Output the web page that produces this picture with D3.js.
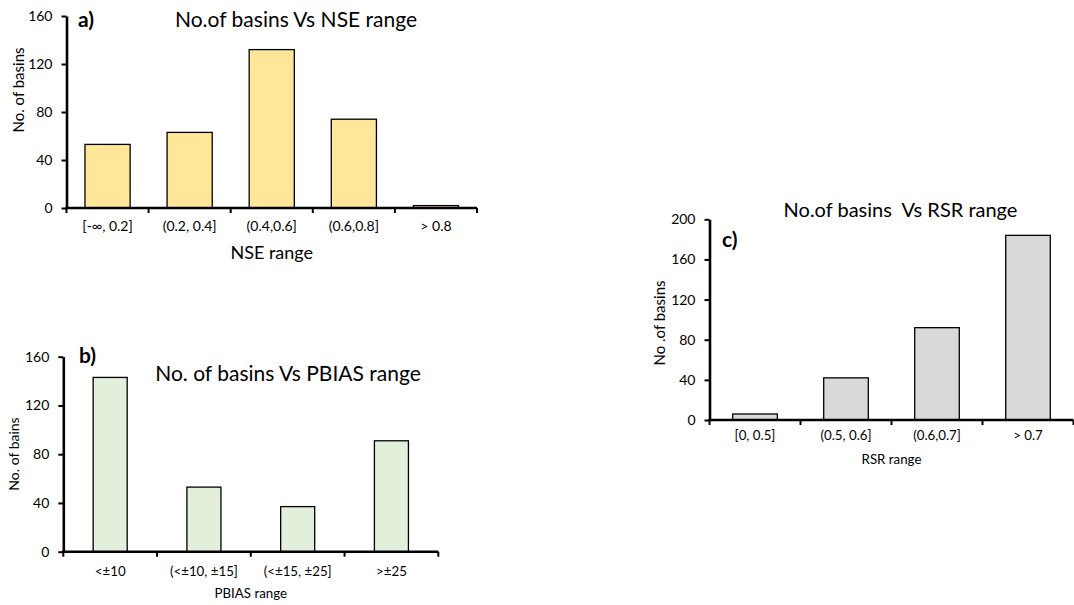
<!DOCTYPE html>
<html>
<head>
<meta charset="utf-8">
<script src="https://cdn.jsdelivr.net/npm/d3@7"></script>
<style>
  html, body { margin: 0; padding: 0; background: #fff; }
  svg { display: block; font-family: Lato, "Open Sans", sans-serif; }
  svg text { white-space: pre; }
</style>
</head>
<body>
<svg id="fig" width="1074" height="605"></svg>
<script>
// NSE panel
const nseCategories = ["[-\u221e, 0.2]", "(0.2, 0.4]", "(0.4,0.6]", "(0.6,0.8]", "> 0.8"];
const nseCounts = [53, 63, 132, 74, 2];
const nseTicks = [0, 40, 80, 120, 160];

// PBIAS panel
const pbiasCategories = ["<\u00b110", "(<\u00b110, \u00b115]", "(<\u00b115, \u00b125]", ">\u00b125"];
const pbiasCounts = [143, 53, 37, 91];
const pbiasTicks = [0, 40, 80, 120, 160];

// RSR panel
const rsrCategories = ["[0, 0.5]", "(0.5, 0.6]", "(0.6,0.7]", "> 0.7"];
const rsrCounts = [6, 42, 92, 184];
const rsrTicks = [0, 40, 80, 120, 160, 200];

const svg = d3.select("#fig");

function panel(cfg) {
  const g = svg.append("g");
  const x = d3.scaleBand().domain(cfg.categories).range([cfg.x0, cfg.x1]).padding(0);
  const y = d3.scaleLinear().domain([0, cfg.yMax]).range([cfg.y0, cfg.y1]);
  const bw = x.bandwidth() * cfg.barFrac;

  // bars
  g.selectAll("rect.bar")
    .data(cfg.values)
    .join("rect")
    .attr("class", "bar")
    .attr("x", (d, i) => x(cfg.categories[i]) + (x.bandwidth() - bw) / 2)
    .attr("y", d => y(d))
    .attr("width", bw)
    .attr("height", d => y(0) - y(d))
    .attr("fill", cfg.fill)
    .attr("stroke", "#000")
    .attr("stroke-width", 1.3);

  // y axis
  const ya = g.append("g")
    .attr("transform", `translate(${cfg.x0},0)`)
    .call(d3.axisLeft(y).tickValues(cfg.yTicks).tickSize(5).tickSizeOuter(0).tickPadding(9));
  ya.select(".domain").attr("stroke-width", 2.6);
  ya.selectAll(".tick line").attr("stroke-width", 2);
  ya.selectAll(".tick text").attr("font-size", cfg.tickFont).attr("fill", "#000")
    .attr("font-family", "Lato, sans-serif");

  // x axis: category labels centred on bands, tick marks on band edges
  const xa = g.append("g")
    .attr("transform", `translate(0,${cfg.y0})`)
    .call(d3.axisBottom(x).tickSize(0).tickPadding(cfg.xLabelPad));
  xa.select(".domain").remove();
  xa.selectAll(".tick text").attr("font-size", cfg.xTickFont).attr("fill", "#000")
    .attr("font-family", "Lato, sans-serif");
  g.append("line")
    .attr("x1", cfg.x0 - 1).attr("x2", cfg.x1)
    .attr("y1", cfg.y0).attr("y2", cfg.y0)
    .attr("stroke", "#000").attr("stroke-width", 2.6);
  const edges = cfg.categories.map(c => x(c)).concat([cfg.x1]);
  g.selectAll("line.edge")
    .data(edges)
    .join("line")
    .attr("class", "edge")
    .attr("x1", d => d).attr("x2", d => d)
    .attr("y1", cfg.y0).attr("y2", cfg.y0 + 5)
    .attr("stroke", "#000").attr("stroke-width", 2);

  // axis titles
  g.append("text")
    .attr("x", (cfg.x0 + cfg.x1) / 2)
    .attr("y", cfg.xTitleY)
    .attr("text-anchor", "middle")
    .attr("font-size", cfg.xTitleFont)
    .text(cfg.xTitle);
  g.append("text")
    .attr("transform", `translate(${cfg.yTitleX},${cfg.yTitleCY}) rotate(-90)`)
    .attr("text-anchor", "middle")
    .attr("dominant-baseline", "middle")
    .attr("font-size", cfg.yTitleFont)
    .text(cfg.yTitle);

  // chart title and panel tag
  g.append("text")
    .attr("x", cfg.titleX).attr("y", cfg.titleY)
    .attr("text-anchor", "middle")
    .attr("font-size", cfg.titleFont)
    .text(cfg.title);
  g.append("text")
    .attr("x", cfg.tagX).attr("y", cfg.tagY)
    .attr("font-size", 21).attr("font-weight", "bold")
    .text(cfg.tag);
}

panel({
  categories: nseCategories, values: nseCounts, yTicks: nseTicks, yMax: 160,
  x0: 66.5, x1: 477, y0: 208, y1: 16, barFrac: 0.55, fill: "#FFE699",
  tickFont: 14, xTickFont: 14, xLabelPad: 13,
  xTitle: "NSE range", xTitleY: 259, xTitleFont: 18,
  yTitle: "No. of basins", yTitleX: 20, yTitleCY: 90, yTitleFont: 15,
  title: "No.of basins Vs NSE range", titleX: 296, titleY: 27, titleFont: 21,
  tag: "a)", tagX: 78, tagY: 27
});

panel({
  categories: pbiasCategories, values: pbiasCounts, yTicks: pbiasTicks, yMax: 160,
  x0: 63.3, x1: 438.3, y0: 551.7, y1: 356.7, barFrac: 0.363, fill: "#E2EFDA",
  tickFont: 14, xTickFont: 13.3, xLabelPad: 15,
  xTitle: "PBIAS range", xTitleY: 598, xTitleFont: 13.3,
  yTitle: "No. of bains", yTitleX: 15, yTitleCY: 454, yTitleFont: 14,
  title: "No. of basins Vs PBIAS range", titleX: 288, titleY: 381, titleFont: 21,
  tag: "b)", tagX: 79, tagY: 363
});

panel({
  categories: rsrCategories, values: rsrCounts, yTicks: rsrTicks, yMax: 200,
  x0: 709.5, x1: 1073.5, y0: 420, y1: 219.3, barFrac: 0.49, fill: "#D9D9D9",
  tickFont: 14, xTickFont: 13.3, xLabelPad: 10.5,
  xTitle: "RSR range", xTitleY: 464, xTitleFont: 13.3,
  yTitle: "No .of basins", yTitleX: 661.5, yTitleCY: 323, yTitleFont: 15,
  title: "No.of basins  Vs RSR range", titleX: 900.5, titleY: 217, titleFont: 20,
  tag: "c)", tagX: 722, tagY: 247
});
</script>
</body>
</html>
